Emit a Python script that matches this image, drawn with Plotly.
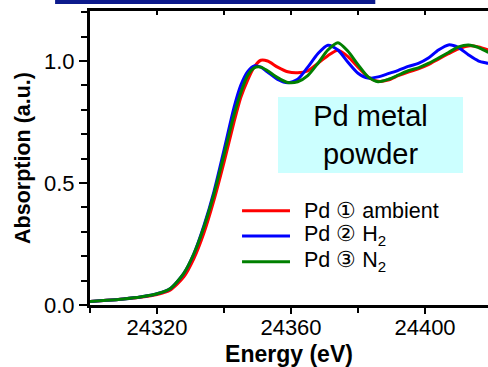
import plotly.graph_objects as go

energy = [24300, 24305, 24310, 24315, 24320, 24324, 24328, 24331, 24334, 24337,
          24340, 24343, 24345, 24347, 24349, 24351, 24353, 24356, 24359, 24362,
          24365, 24368, 24371, 24374, 24377, 24380, 24383, 24386, 24389, 24392,
          24395, 24398, 24401, 24404, 24407, 24410, 24413, 24416, 24419, 24420]

pd_ambient = [0.014, 0.019, 0.025, 0.032, 0.043, 0.062, 0.115, 0.19, 0.295, 0.43,
              0.585, 0.75, 0.85, 0.92, 0.975, 1.003, 1.0, 0.975, 0.956, 0.952,
              0.96, 0.99, 1.022, 1.044, 1.018, 0.975, 0.935, 0.917, 0.922, 0.94,
              0.955, 0.968, 0.985, 1.008, 1.03, 1.05, 1.062, 1.058, 1.045, 1.04]

pd_h2 = [0.014, 0.019, 0.025, 0.033, 0.046, 0.068, 0.13, 0.21, 0.325, 0.465,
         0.635, 0.81, 0.9, 0.955, 0.98, 0.975, 0.955, 0.925, 0.911, 0.925,
         0.975, 1.03, 1.065, 1.045, 0.995, 0.95, 0.93, 0.935, 0.948, 0.962,
         0.978, 0.99, 1.012, 1.045, 1.066, 1.055, 1.025, 1.0, 0.99, 0.985]

pd_n2 = [0.014, 0.019, 0.025, 0.033, 0.046, 0.068, 0.13, 0.21, 0.32, 0.455,
         0.615, 0.78, 0.87, 0.94, 0.972, 0.975, 0.96, 0.932, 0.912, 0.915,
         0.94, 0.99, 1.045, 1.075, 1.04, 0.985, 0.935, 0.915, 0.925, 0.942,
         0.96, 0.972, 0.99, 1.012, 1.035, 1.058, 1.066, 1.055, 1.035, 1.03]

series_names = ["Pd \u2460 ambient", "Pd \u2461 H<sub>2</sub>", "Pd \u2462 N<sub>2</sub>"]
series_values = [pd_ambient, pd_h2, pd_n2]
series_colors = ["#ff0000", "#0000ff", "#008000"]

x_range = [24300, 24418.8]
y_range = [0, 1.205]

FONT = "Arial, Liberation Sans, sans-serif"

fig = go.Figure()
for name, vals, col in zip(series_names, series_values, series_colors):
    fig.add_trace(go.Scatter(x=energy, y=vals, mode="lines", name=name,
                             line=dict(color=col, width=3, shape="spline", smoothing=0.7),
                             showlegend=False, hoverinfo="skip"))

# invisible trace to activate top axis
fig.add_trace(go.Scatter(x=[x_range[0]], y=[0], xaxis="x2", mode="markers",
                         marker=dict(opacity=0), showlegend=False, hoverinfo="skip"))

# manual legend
row_y = [0.3207, 0.2347, 0.1473]
for name, col, ry in zip(series_names, series_colors, row_y):
    fig.add_shape(type="line", xref="paper", yref="paper", x0=0.382, x1=0.5025,
                  y0=ry, y1=ry, line=dict(color=col, width=3))
    fig.add_annotation(xref="paper", yref="paper", x=0.5327, y=ry, text=name,
                       showarrow=False, xanchor="left", yanchor="middle",
                       font=dict(family=FONT, size=21.5, color="black"))

# label box
fig.add_annotation(xref="paper", yref="paper", x=0.705, y=0.5782,
                   text="Pd metal<br>powder", showarrow=False,
                   xanchor="center", yanchor="middle", width=185, height=76,
                   bgcolor="#ccffff", borderpad=0, borderwidth=0,
                   font=dict(family=FONT, size=29, color="black"))

# top dark bar
fig.add_shape(type="rect", xref="paper", yref="paper", x0=-0.0877, x1=0.7168,
              y0=1.0238, y1=1.04, fillcolor="#0c1a8c", line=dict(width=0))

fig.update_layout(
    width=488, height=367,
    margin=dict(l=90, r=0, t=11, b=62),
    paper_bgcolor="white", plot_bgcolor="white",
    font=dict(family=FONT, size=22, color="black"),
    xaxis=dict(range=x_range, tick0=24320, dtick=40, tickformat="d", ticks="outside",
               ticklen=6, tickwidth=2, tickcolor="black", showline=True, linewidth=3,
               linecolor="black", showgrid=False, zeroline=False, ticklabelstandoff=-5,
               minor=dict(dtick=20, tick0=24300, ticks="outside", ticklen=5,
                          tickwidth=2, tickcolor="black"),
               title=dict(text="<b>Energy (eV)</b>", font=dict(size=23), standoff=8),
               tickfont=dict(size=22)),
    xaxis2=dict(range=x_range, overlaying="x", side="top", tick0=24300, dtick=20,
                ticks="inside", ticklen=4, tickwidth=2, tickcolor="black",
                showline=True, linewidth=3, linecolor="black", showgrid=False,
                zeroline=False, showticklabels=False),
    yaxis=dict(range=y_range, tick0=0, dtick=0.5, tickformat=".1f", ticks="outside",
               ticklen=8, tickwidth=2, tickcolor="black", showline=True, linewidth=3,
               linecolor="black", showgrid=False, zeroline=False,
               minor=dict(dtick=0.1, ticks="outside", ticklen=6, tickwidth=2,
                          tickcolor="black"),
               title=dict(text="<b>Absorption (a.u.)</b>", font=dict(size=21.5), standoff=8),
               tickfont=dict(size=22)),
)

fig.write_html("out.html")
